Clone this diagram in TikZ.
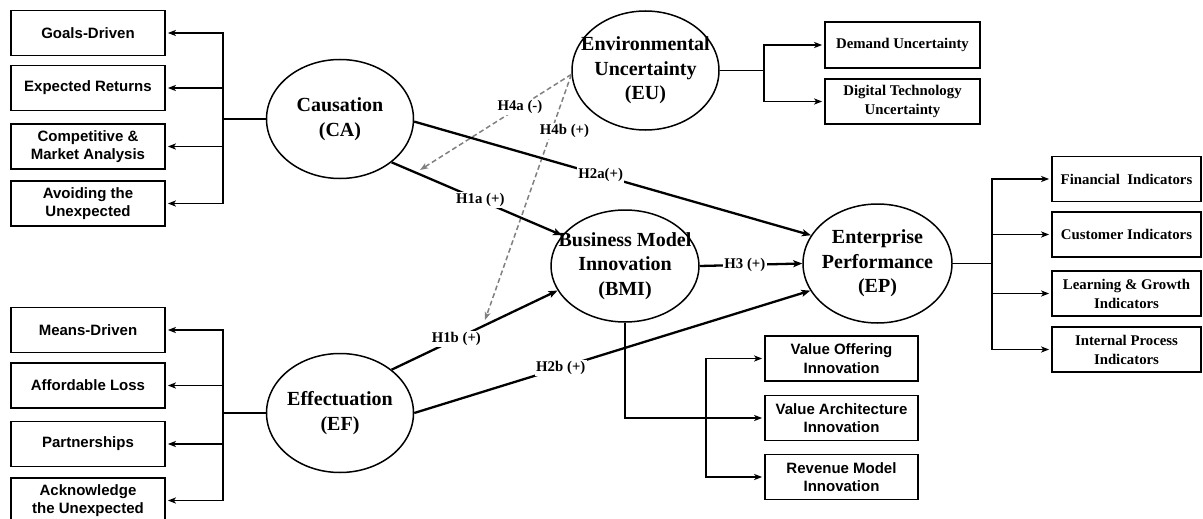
\documentclass[tikz,border=0pt]{standalone}
\usepackage{fontspec}
\setmainfont{Liberation Serif}
\newfontfamily\arialfont{Liberation Sans}
\usetikzlibrary{shapes.geometric, arrows.meta, positioning}

\begin{document}
\begin{tikzpicture}[
    x=1pt, y=-1pt,
    construct/.style={ellipse, draw, line width=1.5pt, minimum width=147pt, minimum height=119pt, inner sep=0pt},
    ctext/.style={align=center, font=\bfseries\fontsize{20}{24.5}\selectfont},
    dimbox/.style={rectangle, draw, line width=1.7pt, minimum width=154pt, minimum height=45pt, inner sep=1pt, align=center, font=\arialfont\bfseries\fontsize{15}{18.5}\selectfont},
    indbox/.style={rectangle, draw, line width=1.7pt, minimum height=45pt, inner sep=1pt, align=center, font=\bfseries\fontsize{14.8}{19}\selectfont},
    hyp/.style={line width=2.3pt, -{Stealth[length=9pt, width=7pt, inset=2pt]}},
    moder/.style={line width=1.5pt, gray, dash pattern=on 5pt off 3pt, -{Stealth[length=8pt, width=6pt, inset=2pt]}},
    branch/.style={line width=1.8pt, shorten >=2pt, -{Stealth[length=8pt, width=6pt, inset=2pt]}},
    hlabel/.style={fill=white, text=black, inner sep=1.5pt, font=\bfseries\fontsize{14.8}{17}\selectfont}
]
    \useasboundingbox (0,0) rectangle (1203,519);

    % Causation and its dimensions
    \node[construct, label={[ctext]center:{Causation\\(CA)}}] (ca) at (340,119) {};
    \node[dimbox] (goals) at (88,33) {Goals-Driven};
    \node[dimbox] (returns) at (88,88) {Expected Returns};
    \node[dimbox] (market) at (88,146.5) {Competitive \&\\Market Analysis};
    \node[dimbox] (avoid) at (88,203.5) {Avoiding the\\Unexpected};

    \draw[branch] (ca.west) -- +(-43,0) |- (goals.east);
    \draw[branch] (ca.west) -- +(-43,0) |- (returns.east);
    \draw[branch] (ca.west) -- +(-43,0) |- (market.east);
    \draw[branch] (ca.west) -- +(-43,0) |- (avoid.east);

    % Effectuation and its dimensions
    \node[construct, label={[ctext]center:{Effectuation\\(EF)}}] (ef) at (340,413) {};
    \node[dimbox] (means) at (88,330) {Means-Driven};
    \node[dimbox] (loss) at (88,385.5) {Affordable Loss};
    \node[dimbox] (partner) at (88,444) {Partnerships};
    \node[dimbox] (acknow) at (88,500.5) {Acknowledge\\the Unexpected};

    \draw[branch] (ef.west) -- +(-43,0) |- (means.east);
    \draw[branch] (ef.west) -- +(-43,0) |- (loss.east);
    \draw[branch] (ef.west) -- +(-43,0) |- (partner.east);
    \draw[branch] (ef.west) -- +(-43,0) |- (acknow.east);

    % Environmental Uncertainty
    \node[construct, label={[ctext]center:{Environmental\\Uncertainty\\(EU)}}] (eu) at (645.5,70.5) {};
    \node[indbox, minimum width=155pt, minimum height=46pt] (demand) at (902.5,45) {Demand Uncertainty};
    \node[indbox, minimum width=155pt] (digital) at (902.5,101.5) {Digital Technology\\Uncertainty};

    \draw[branch] (eu.east) -- +(44.5,0) |- (demand.west);
    \draw[branch] (eu.east) -- +(44.5,0) |- (digital.west);

    % Business Model Innovation
    \node[construct, minimum width=148pt, minimum height=112pt, label={[ctext]center:{Business Model\\Innovation\\(BMI)}}] (bmi) at (625,266) {};
    \node[dimbox, minimum width=153pt] (offer) at (841.5,358.5) {Value Offering\\Innovation};
    \node[dimbox, minimum width=153pt] (arch) at (841.5,418) {Value Architecture\\Innovation};
    \node[dimbox, minimum width=153pt] (revenue) at (841.5,477) {Revenue Model\\Innovation};

    \draw[branch] (bmi.south) |- (arch.west);
    \coordinate (bmibus) at (706,418);
    \draw[branch] (bmibus) |- (offer.west);
    \draw[branch] (bmibus) |- (revenue.west);

    % Enterprise Performance
    \node[construct, minimum width=149pt, label={[ctext]center:{Enterprise\\Performance\\(EP)}}] (ep) at (877.5,263.5) {};
    \node[indbox, minimum width=149pt] (fin) at (1126.5,179) {Financial\ \ Indicators};
    \node[indbox, minimum width=149pt] (cust) at (1126.5,234.5) {Customer Indicators};
    \node[indbox, minimum width=149pt] (learn) at (1126.5,293.5) {Learning \& Growth\\Indicators};
    \node[indbox, minimum width=149pt] (internal) at (1126.5,349.5) {Internal Process\\Indicators};

    \draw[branch] (ep.east) -- +(39,0) |- (fin.west);
    \draw[branch] (ep.east) -- +(39,0) |- (cust.west);
    \draw[branch] (ep.east) -- +(39,0) |- (learn.west);
    \draw[branch] (ep.east) -- +(39,0) |- (internal.west);

    % Moderating effects
    \coordinate (h4aend) at (420,170);
    \coordinate (h4bend) at (485,320);
    \draw[moder] (eu.183) -- node[hlabel, pos=0.34] {H4a (-)} (h4aend);
    \draw[moder] (eu.183) -- node[hlabel, pos=0.23, xshift=13pt] {H4b (+)} (h4bend);

    % Hypotheses
    \draw[hyp] (ca.-40) -- node[hlabel, pos=0.52] {H1a (+)} (bmi.154);
    \draw[hyp] (ef.40) -- node[hlabel, pos=0.39] {H1b (+)} (bmi.200);
    \draw[hyp] (ca.-2) -- node[hlabel, pos=0.47] {H2a(+)} (ep.157);
    \draw[hyp] (ef.east) -- node[hlabel, pos=0.37] {H2b (+)} (ep.202);
    \draw[hyp] (bmi.east) -- node[hlabel, pos=0.44] {H3 (+)} (ep.west);
\end{tikzpicture}
\end{document}
